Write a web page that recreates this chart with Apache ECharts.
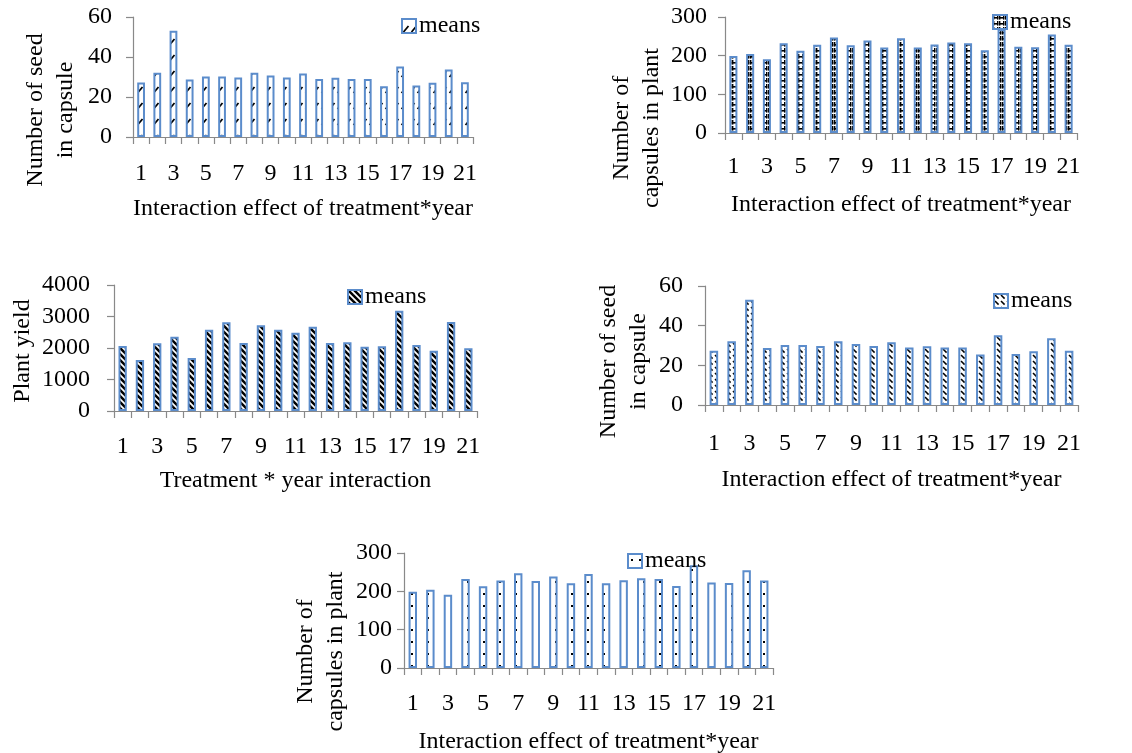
<!DOCTYPE html>
<html>
<head>
<meta charset="utf-8">
<script src="https://cdn.jsdelivr.net/npm/echarts@6/dist/echarts.min.js"></script>
<style>
html,body{margin:0;padding:0;background:#fff;}
#main{width:1132px;height:753px;}
</style>
</head>
<body>
<div id="main"></div>
<script>
// ---- data ----
const categories = ['1','2','3','4','5','6','7','8','9','10','11','12','13','14','15','16','17','18','19','20','21'];
const seedPerCapsule = [27.3, 32.1, 53.1, 28.7, 30.2, 30.2, 29.7, 32.1, 30.7, 29.8, 31.7, 29.0, 29.6, 29.0, 29.0, 25.4, 35.2, 25.7, 27.1, 33.7, 27.4];
const capsulesPerPlant = [199, 204, 191, 232, 213, 228, 247, 227, 239, 221, 245, 221, 229, 234, 232, 214, 268, 223, 222, 255, 228];
const plantYield = [2063, 1619, 2148, 2360, 1683, 2582, 2815, 2159, 2720, 2582, 2487, 2677, 2159, 2180, 2042, 2053, 3185, 2095, 1915, 2825, 1989];
const seriesName = 'means';
const xTitleA = 'Interaction effect of treatment*year';
const xTitleB = 'Treatment * year interaction';
const yTitleSeed = 'Number of seed\nin capsule';
const yTitleCaps = 'Number of\ncapsules in plant';
const yTitleYield = 'Plant yield';

// ---- patterns ----
function tile(w, h, draw) {
  const c = document.createElement('canvas');
  c.width = w; c.height = h;
  const g = c.getContext('2d');
  g.fillStyle = '#fff'; g.fillRect(0, 0, w, h);
  g.fillStyle = '#000'; g.strokeStyle = '#000';
  draw(g);
  return c;
}
const pat1 = tile(8, 16, g => { g.lineWidth = 1.8; g.beginPath(); g.moveTo(1.5, 13); g.lineTo(6.5, 7); g.stroke(); });
const pat2 = tile(6, 6, g => { g.fillRect(0, 2, 5.3, 1.6); g.fillRect(0, 0, 1.4, 4.6); g.fillRect(4, 0, 1.4, 4.6); });
const pat3 = tile(6, 6, g => {
  g.lineWidth = 2.5;
  g.beginPath(); g.moveTo(-1, -1); g.lineTo(7, 7); g.stroke();
  g.beginPath(); g.moveTo(-1, 5); g.lineTo(1, 7); g.stroke();
  g.beginPath(); g.moveTo(5, -1); g.lineTo(7, 1); g.stroke();
});
const pat4 = tile(6, 6, g => { g.lineWidth = 1.5; g.beginPath(); g.moveTo(1, 1); g.lineTo(4.6, 4.6); g.stroke(); });
const pat5 = tile(8, 12, g => { g.fillRect(3, 5, 2, 2); });

const FONT = "'Liberation Serif','Times New Roman',serif";
const FS = 24;
const AXIS = '#898989';
const BLUE = '#5B8CCB';

const panels = [
  { grid: {left: 133, top: 17, width: 340, height: 120}, data: seedPerCapsule, max: 60, interval: 20,
    pat: pat1, yName: yTitleSeed, yGap: 52, yShift: 33, yLab: 21, xLab: 25, xName: xTitleA, xGap: 60, legend: {left: 401, top: 14} },
  { grid: {left: 725, top: 17, width: 352, height: 116}, data: capsulesPerPlant, max: 300, interval: 100,
    pat: pat2, yName: yTitleCaps, yGap: 55, yShift: 53, yLab: 18, xLab: 22, xName: xTitleA, xGap: 60, legend: {left: 992, top: 10} },
  { grid: {left: 114, top: 285, width: 363, height: 126}, data: plantYield, max: 4000, interval: 1000,
    pat: pat3, yName: yTitleYield, yGap: 76, yShift: 3, yLab: 24, xLab: 24, xName: xTitleB, xGap: 58, legend: {left: 347, top: 285} },
  { grid: {left: 705, top: 286, width: 373, height: 119}, data: seedPerCapsule, max: 60, interval: 20,
    pat: pat4, yName: yTitleSeed, yGap: 51, yShift: 16, yLab: 22, xLab: 27, xName: xTitleA, xGap: 63, legend: {left: 993, top: 289} },
  { grid: {left: 404, top: 553, width: 369, height: 115}, data: capsulesPerPlant, max: 300, interval: 100,
    pat: pat5, yName: yTitleCaps, yGap: 53, yShift: 41, yLab: 12, xLab: 24, xName: xTitleA, xGap: 62, legend: {left: 627, top: 549} }
];

const option = {
  animation: false,
  backgroundColor: '#fff',
  textStyle: {fontFamily: FONT},
  grid: [], xAxis: [], yAxis: [], series: [], legend: []
};

panels.forEach((p, i) => {
  option.grid.push(Object.assign({containLabel: false, outerBoundsMode: 'none'}, p.grid));
  option.xAxis.push({
    type: 'category', gridIndex: i, data: categories,
    name: p.xName, nameLocation: 'middle', nameGap: p.xGap,
    nameTextStyle: {fontFamily: FONT, fontSize: FS, color: '#000'},
    axisLine: {lineStyle: {color: AXIS, width: 1.2}},
    axisTick: {show: true, interval: 0, length: 7, lineStyle: {color: AXIS, width: 1.2}},
    axisLabel: {interval: 1, margin: p.xLab, fontFamily: FONT, fontSize: FS, color: '#000'},
    splitLine: {show: false}
  });
  option.yAxis.push({
    type: 'value', gridIndex: i, min: 0, max: p.max, interval: p.interval,
    name: p.yName, nameLocation: 'middle', nameGap: p.yGap, nameRotate: 90,
    nameTextStyle: {fontFamily: FONT, fontSize: FS, color: '#000', lineHeight: 30, padding: [0, p.yShift * 2, 0, 0]},
    axisLine: {show: true, lineStyle: {color: AXIS, width: 1.2}},
    axisTick: {show: true, length: 7, lineStyle: {color: AXIS, width: 1.2}},
    axisLabel: {margin: p.yLab, fontFamily: FONT, fontSize: FS, color: '#000', formatter: v => String(v)},
    splitLine: {show: false}
  });
  const name = seriesName + '#' + i;
  option.series.push({
    type: 'bar', name: name, xAxisIndex: i, yAxisIndex: i, data: p.data,
    barWidth: '48%',
    itemStyle: {color: {image: p.pat, repeat: 'repeat'}, borderColor: BLUE, borderWidth: 2},
    emphasis: {disabled: true}
  });
  option.legend.push({
    left: p.legend.left, top: p.legend.top, padding: 0,
    data: [name], icon: 'rect', itemWidth: 14, itemHeight: 14, itemGap: 4,
    formatter: () => seriesName,
    textStyle: {fontFamily: FONT, fontSize: FS, color: '#000', padding: [0, 0, 0, -2]},
    selectedMode: false
  });
});

const chart = echarts.init(document.getElementById('main'), null, {renderer: 'canvas'});
chart.setOption(option);
</script>
</body>
</html>
